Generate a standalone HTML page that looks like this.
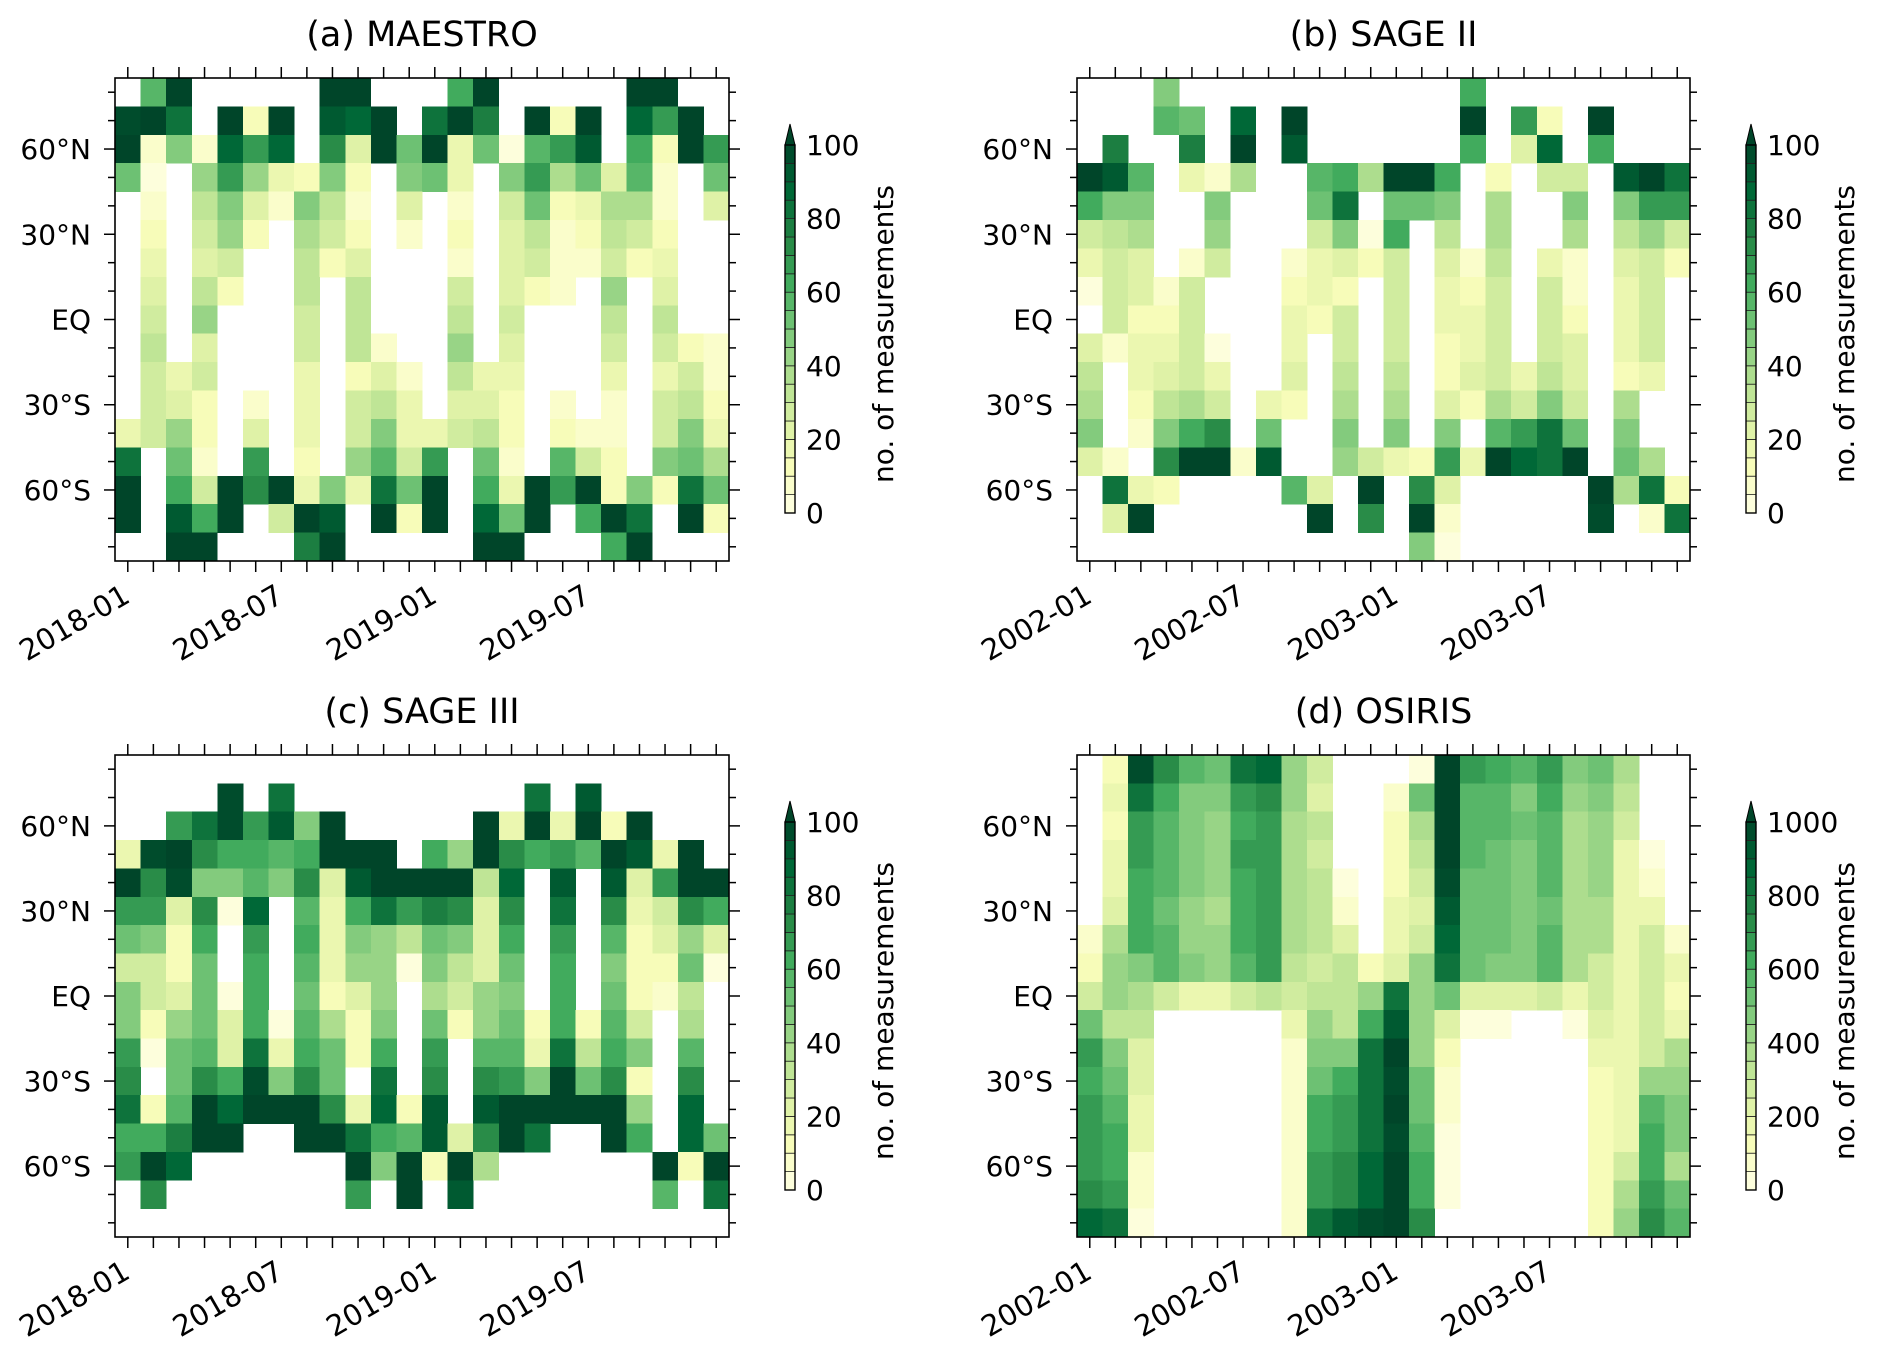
<!DOCTYPE html>
<html><head><meta charset="utf-8"><style>
html,body{margin:0;padding:0;background:#fff;}
svg{display:block;font-family:"DejaVu Sans","Liberation Sans",sans-serif;}
</style></head><body>
<svg id="fig" width="1892" height="1345" viewBox="0 0 1892 1345" xmlns="http://www.w3.org/2000/svg"></svg>
<script>
const _ = null;
const latitudes = [80,70,60,50,40,30,20,10,0,-10,-20,-30,-40,-50,-60,-70,-80];
const latTickValues = [60,30,0,-30,-60];
const latTickLabels = ["60°N","30°N","EQ","30°S","60°S"];
const monthTicksA = ["2018-01","2018-07","2019-01","2019-07"];
const monthTicksB = ["2002-01","2002-07","2003-01","2003-07"];
const cbTicks100 = [0,20,40,60,80,100];
const cbTicks1000 = [0,200,400,600,800,1000];
const maestro = [
[_,55,100,_,_,_,_,_,100,100,_,_,_,60,100,_,_,_,_,_,100,100,_,_],
[97,100,80,_,100,10,100,_,92,85,100,_,80,100,78,_,100,10,100,_,85,65,100,_],
[100,8,45,8,88,65,88,_,72,22,100,52,100,15,52,3,55,68,92,_,60,12,100,65],
[52,3,_,40,65,40,15,10,45,12,_,45,50,15,_,45,65,35,50,20,55,8,_,50],
[_,8,_,32,45,22,5,45,32,8,_,20,_,8,_,28,50,12,15,38,38,8,_,20],
[_,12,_,28,40,10,_,35,28,10,_,5,_,10,_,22,30,5,10,30,28,12,_,_],
[_,18,_,22,28,_,_,32,12,22,_,_,_,8,_,22,28,5,5,28,12,18,_,_],
[_,22,_,32,12,_,_,32,_,32,_,_,_,28,_,22,12,5,_,40,_,22,_,_],
[_,28,_,40,_,_,_,28,_,32,_,_,_,32,_,28,_,_,_,32,_,32,_,_],
[_,32,_,22,_,_,_,28,_,32,8,_,_,40,_,22,_,_,_,28,_,25,10,5],
[_,25,18,25,_,_,_,18,_,12,22,5,_,32,18,18,_,_,_,18,_,18,25,5],
[_,25,20,12,_,5,_,15,_,25,32,18,_,22,22,12,_,8,_,5,_,25,32,12],
[18,25,40,12,_,20,_,15,_,28,45,18,18,25,32,12,_,12,8,5,_,25,45,15],
[82,_,50,8,_,65,_,12,_,40,55,25,65,_,50,8,_,55,25,10,_,45,50,35],
[100,_,62,25,100,72,100,15,45,15,80,50,100,_,60,15,100,65,100,12,45,12,80,50],
[100,_,90,60,100,_,25,100,92,_,100,10,100,_,88,50,100,_,60,100,82,_,100,12],
[_,_,100,100,_,_,_,75,100,_,_,_,_,_,100,100,_,_,_,60,100,_,_,_]];
const sage2 = [
[_,_,_,45,_,_,_,_,_,_,_,_,_,_,_,60,_,_,_,_,_,_,_,_],
[_,_,_,55,50,_,88,_,100,_,_,_,_,_,_,100,_,65,10,_,100,_,_,_],
[_,75,_,_,75,_,100,_,92,_,_,_,_,_,_,60,_,20,88,_,60,_,_,_],
[100,92,55,_,18,8,35,_,_,55,60,35,100,100,60,_,12,_,25,25,_,92,100,82],
[62,45,48,_,_,45,_,_,_,52,82,_,50,50,45,_,38,_,_,45,_,45,65,65],
[25,32,35,_,_,40,_,_,_,25,45,3,60,_,32,_,38,_,_,38,_,32,40,25],
[15,25,20,_,8,25,_,_,8,18,20,12,25,_,20,8,32,_,18,8,_,20,25,10],
[3,25,20,5,25,_,_,_,12,15,10,_,25,_,15,12,25,_,25,8,_,15,25,_],
[_,25,12,10,25,_,_,_,15,10,25,_,25,_,15,15,25,_,25,12,_,15,25,_],
[20,5,15,15,25,3,_,_,15,_,25,_,25,_,12,15,28,_,25,20,_,15,28,_],
[32,_,15,20,25,15,_,_,20,_,32,_,32,_,10,20,25,15,32,20,_,12,18,_],
[38,_,10,32,38,25,_,18,10,_,38,_,38,_,20,10,35,28,45,28,_,38,_,_],
[45,_,8,45,60,72,_,50,_,_,45,_,45,_,45,_,55,65,82,50,_,45,_,_],
[20,8,_,72,100,100,8,92,_,_,40,25,15,12,65,15,100,88,82,100,_,50,35,_],
[_,80,15,10,_,_,_,_,55,20,_,100,_,72,22,_,_,_,_,_,100,35,80,12],
[_,22,100,_,_,_,_,_,_,100,_,72,_,100,5,_,_,_,_,_,95,_,8,82],
[_,_,_,_,_,_,_,_,_,_,_,_,_,45,3,_,_,_,_,_,_,_,_,_]];
const sage3 = [
[_,_,_,_,_,_,_,_,_,_,_,_,_,_,_,_,_,_,_,_,_,_,_,_],
[_,_,_,_,95,_,80,_,_,_,_,_,_,_,_,_,80,_,90,_,_,_,_,_],
[_,_,65,80,95,65,92,45,100,_,_,_,_,_,100,15,100,15,100,10,100,_,_,_],
[15,95,100,72,60,60,55,60,100,100,100,_,60,40,100,72,60,65,55,100,92,15,100,_],
[100,72,97,45,48,55,45,72,20,92,100,100,100,100,32,85,_,92,_,92,20,65,100,100],
[65,65,20,72,3,85,_,55,15,60,80,65,75,72,20,72,_,80,_,72,15,25,72,60],
[50,45,12,60,_,65,_,60,15,45,40,32,50,45,22,60,_,65,_,55,12,20,40,20],
[25,28,10,50,_,60,_,55,15,40,40,3,45,32,22,50,_,60,_,45,10,10,50,3],
[45,25,20,50,3,60,_,50,10,20,40,_,35,28,40,45,_,60,_,50,10,8,32,_],
[45,10,40,50,20,60,3,55,38,10,45,_,50,10,40,50,12,60,10,55,25,_,38,_],
[65,3,50,55,20,80,15,60,50,10,60,_,65,_,55,55,15,80,32,60,45,_,55,_],
[72,_,50,72,60,95,45,72,50,_,80,_,72,_,72,65,45,100,50,72,12,_,72,_],
[80,12,55,100,85,100,100,100,72,15,85,10,92,_,92,100,100,100,100,100,40,_,88,_],
[60,60,75,100,100,_,_,100,100,80,60,55,92,20,72,100,80,_,_,100,60,_,85,50],
[65,100,85,_,_,_,_,_,_,100,45,100,12,100,35,_,_,_,_,_,_,100,10,100],
[_,72,_,_,_,_,_,_,_,65,_,100,_,92,_,_,_,_,_,_,_,55,_,80],
[_,_,_,_,_,_,_,_,_,_,_,_,_,_,_,_,_,_,_,_,_,_,_,_]];
const osiris = [
[_,120,950,720,550,500,800,880,400,250,_,_,_,30,1000,650,600,550,650,450,500,350,_,_],
[_,180,800,600,450,450,650,720,400,220,_,_,80,500,1000,550,550,450,600,400,450,300,_,_],
[_,120,650,550,450,400,600,650,350,320,_,_,100,350,1000,550,550,500,550,380,400,250,_,_],
[_,180,650,550,450,400,650,650,350,280,_,_,120,300,1000,550,500,480,550,380,400,180,30,_],
[_,180,620,550,450,400,620,650,350,320,30,_,120,250,950,500,500,480,550,350,400,180,80,_],
[_,220,600,500,400,350,620,650,350,320,80,_,180,220,900,500,500,480,500,350,350,150,150,_],
[50,350,600,550,400,400,620,650,350,320,220,_,150,280,880,500,500,480,550,350,350,150,280,80],
[120,400,450,550,450,400,550,650,320,280,320,100,200,400,800,500,450,450,550,350,280,150,250,180],
[280,400,380,250,180,150,250,300,250,300,320,400,800,400,500,200,200,200,250,150,250,180,250,120],
[500,320,320,_,_,_,_,_,150,400,320,600,920,400,200,30,30,_,_,30,200,150,250,180],
[650,450,200,_,_,_,_,_,80,450,450,800,1000,400,100,_,_,_,_,_,180,150,280,350],
[620,500,220,_,_,_,_,_,80,500,600,800,950,500,80,_,_,_,_,_,120,150,400,400],
[650,550,150,_,_,_,_,_,80,600,650,800,1000,500,80,_,_,_,_,_,100,150,550,450],
[650,600,150,_,_,_,_,_,80,600,650,800,950,550,30,_,_,_,_,_,120,150,600,450],
[650,600,50,_,_,_,_,_,80,650,720,850,1000,600,30,_,_,_,_,_,120,250,600,380],
[720,650,50,_,_,_,_,_,80,650,720,850,1000,600,30,_,_,_,_,_,120,380,650,500],
[850,800,30,_,_,_,_,_,80,800,900,950,1000,720,_,_,_,_,_,_,120,400,720,550]];

const NS = "http://www.w3.org/2000/svg";
const svg = document.getElementById("fig");
const stops = ["#ffffe5","#f7fcb9","#d9f0a3","#addd8e","#78c679","#41ab5d","#238443","#006837","#004529"];
function hex(c){return [1,3,5].map(i=>parseInt(c.substr(i,2),16));}
function cmap(t){
  t=Math.max(0,Math.min(1,t));
  const p=t*(stops.length-1), i=Math.min(stops.length-2,Math.floor(p)), f=p-i;
  const a=hex(stops[i]), b=hex(stops[i+1]);
  return "rgb("+a.map((v,k)=>Math.round(v+(b[k]-v)*f)).join(",")+")";
}
function colorFor(v,vmax){
  if(v>=vmax) return "#004529";
  const bin=Math.floor(v/(vmax/20));
  return cmap((bin+0.5)/20);
}
function mk(tag,attrs,parent){
  const e=document.createElementNS(NS,tag);
  for(const k in attrs) e.setAttribute(k,attrs[k]);
  (parent||svg).appendChild(e);
  return e;
}
function panel(p){
  const g=mk("g",{});
  
  
  const nCol=p.data[0].length, nRow=latitudes.length;
  const cw=p.w/nCol, ch=p.h/nRow;
  const xPos=c=>p.x+c*cw;
  const yPos=lat=>p.y+(85-lat)/10*ch;
  for(let r=0;r<nRow;r++){
    for(let c=0;c<nCol;c++){
      const v=p.data[r][c];
      if(v===null) continue;
      const rect=mk("rect",{x:xPos(c),y:yPos(latitudes[r]+5),width:cw+0.4,height:ch+0.4,fill:colorFor(v,p.vmax),"shape-rendering":"crispEdges"},g);
      
      
    }
  }
  const frame=mk("rect",{x:p.x,y:p.y,width:p.w,height:p.h,fill:"none",stroke:"#000","stroke-width":1.6},g);
  
  
  for(let c=0;c<nCol;c++){
    const cx=xPos(c)+cw/2;
    mk("line",{x1:cx,x2:cx,y1:p.y+p.h,y2:p.y+p.h+11,stroke:"#000","stroke-width":1.5},g);
    mk("line",{x1:cx,x2:cx,y1:p.y,y2:p.y-11,stroke:"#000","stroke-width":1.5},g);
  }
  p.xlabels.forEach((lab,i)=>{
    const cx=xPos(i*6)+cw/2;
    const ax=cx+4, ay=p.y+p.h+40;
    const t=mk("text",{x:ax,y:ay,"text-anchor":"end","font-size":29,transform:"rotate(-30 "+ax+" "+ay+")"},g);
    t.textContent=lab;
    
    
  });
  latitudes.forEach(lat=>{
    const yy=yPos(lat);
    const major=latTickValues.indexOf(lat)>=0;
    const L=major?11:7;
    mk("line",{x1:p.x,x2:p.x-L,y1:yy,y2:yy,stroke:"#000","stroke-width":1.5},g);
    mk("line",{x1:p.x+p.w,x2:p.x+p.w+L,y1:yy,y2:yy,stroke:"#000","stroke-width":1.5},g);
  });
  latTickValues.forEach((lat,i)=>{
    const t=mk("text",{x:p.x-24,y:yPos(lat)+10,"text-anchor":"end","font-size":28},g);
    t.textContent=latTickLabels[i];
    
    
  });
  const title=mk("text",{x:p.x+p.w/2,y:p.y-32,"text-anchor":"middle","font-size":35},g);
  title.textContent=p.title;
  
  
  const cbx=p.x+p.w+56, cbw=10, cbTop=p.y+67, cbBot=p.y+435;
  const cb=mk("g",{},g);
  
  
  const bh=(cbBot-cbTop)/20;
  for(let b=0;b<20;b++){
    mk("rect",{x:cbx,y:cbBot-(b+1)*bh,width:cbw,height:bh,fill:cmap((b+0.5)/20),stroke:"#222","stroke-width":0.8},cb);
  }
  mk("polygon",{points:cbx+","+cbTop+" "+(cbx+cbw)+","+cbTop+" "+(cbx+cbw/2)+","+(cbTop-21),fill:"#004529",stroke:"#000","stroke-width":1},cb);
  mk("rect",{x:cbx,y:cbTop,width:cbw,height:cbBot-cbTop,fill:"none",stroke:"#000","stroke-width":1.4},cb);
  p.cbTicks.forEach(v=>{
    const yy=cbBot-(v/p.vmax)*(cbBot-cbTop);
    const t=mk("text",{x:cbx+21,y:yy+10,"font-size":28},cb);
    t.textContent=String(v);
    
    
  });
  const cy=(cbTop+cbBot)/2+5, lx=cbx+108;
  const lab=mk("text",{x:lx,y:cy,"text-anchor":"middle","font-size":28,transform:"rotate(-90 "+lx+" "+cy+")"},cb);
  lab.textContent="no. of measurements";
  
  
}
panel({key:"maestro",title:"(a) MAESTRO",x:115,y:78,w:614,h:483,data:maestro,vmax:100,xlabels:monthTicksA,cbTicks:cbTicks100});
panel({key:"sage2",title:"(b) SAGE II",x:1077,y:78,w:613,h:483,data:sage2,vmax:100,xlabels:monthTicksB,cbTicks:cbTicks100});
panel({key:"sage3",title:"(c) SAGE III",x:115,y:755,w:614,h:482,data:sage3,vmax:100,xlabels:monthTicksA,cbTicks:cbTicks100});
panel({key:"osiris",title:"(d) OSIRIS",x:1077,y:755,w:613,h:482,data:osiris,vmax:1000,xlabels:monthTicksB,cbTicks:cbTicks1000});
</script>
</body></html>
